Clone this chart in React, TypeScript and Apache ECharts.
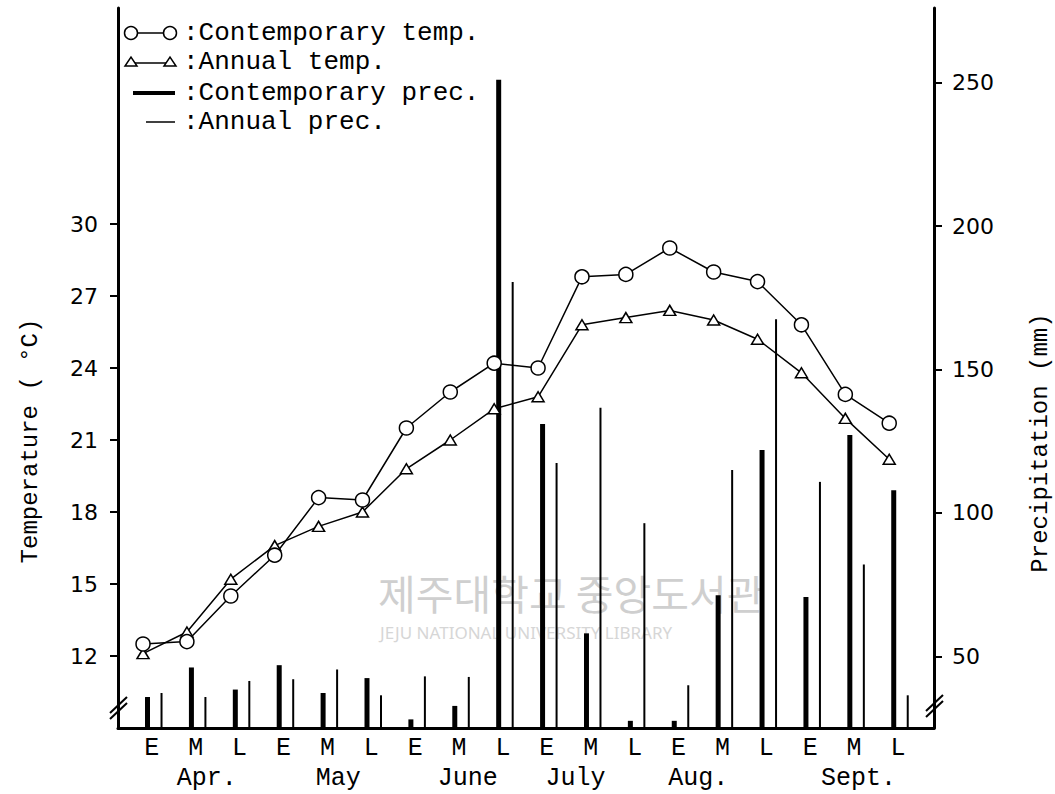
import React, { useEffect, useRef } from "react";
import * as echarts from "echarts";

// ---- data ----
const periods = ["E", "M", "L", "E", "M", "L", "E", "M", "L", "E", "M", "L", "E", "M", "L", "E", "M", "L"];
const months = ["Apr.", "May", "June", "July", "Aug.", "Sept."];
const contTemp = [12.5, 12.6, 14.5, 16.2, 18.6, 18.5, 21.5, 23.0, 24.2, 24.0, 27.8, 27.9, 29.0, 28.0, 27.6, 25.8, 22.9, 21.7];
const annTemp = [12.1, 13.0, 15.2, 16.6, 17.4, 18.0, 19.8, 21.0, 22.3, 22.8, 25.8, 26.1, 26.4, 26.0, 25.2, 23.8, 21.9, 20.2];
const contPrec = [35.8, 46.1, 38.4, 46.9, 37.2, 42.4, 28.0, 32.7, 251, 131, 58, 27.5, 27.5, 71.3, 121.9, 70.7, 127.1, 107.9];
const annPrec = [37.2, 35.8, 41.4, 42.0, 45.4, 36.4, 43.0, 42.8, 180.5, 117.4, 136.6, 96.4, 39.9, 114.9, 167.5, 110.8, 82.0, 36.4];
const tempTicks = [12, 15, 18, 21, 24, 27, 30];
const precTicks = [50, 100, 150, 200, 250];

// ---- layout ----
const X_MIN = -0.57;
const X_MAX = 18.02;
const LABEL_SHIFT = 0.2;
const BAR_SHIFT = 0.245;
const monthLabelPos = [1.45, 4.45, 7.4, 9.85, 12.65, 16.3];
const MONO = '"Liberation Mono", "DejaVu Sans Mono", monospace';
const SANS = '"DejaVu Sans", sans-serif';

export default function App() {
  const ref = useRef<HTMLDivElement>(null);

  useEffect(() => {
    if (!ref.current) return;
    const chart = echarts.init(ref.current, null, { renderer: "svg" });

    const legendText = (y: number, text: string) => ({
      type: "text",
      x: 183,
      y,
      style: { text, fontFamily: MONO, fontSize: 26, fill: "#000", align: "left", verticalAlign: "middle" },
    });

    const option: any = {
      animation: false,
      backgroundColor: "#fff",
      grid: { left: 118, right: 121, top: 8, bottom: 66, containLabel: false },
      xAxis: [
        {
          type: "value",
          min: X_MIN,
          max: X_MAX,
          position: "bottom",
          axisLine: { show: true, onZero: false, lineStyle: { color: "#000", width: 3 } },
          axisTick: { show: false },
          splitLine: { show: false },
          axisLabel: {
            customValues: periods.map((_, i) => i + LABEL_SHIFT),
            formatter: (v: number) => periods[Math.round(v - LABEL_SHIFT)] ?? "",
            margin: 8,
            fontFamily: MONO,
            fontSize: 25,
            color: "#000",
          },
        },
        {
          type: "value",
          min: X_MIN,
          max: X_MAX,
          position: "bottom",
          axisLine: { show: false, onZero: false },
          axisTick: { show: false },
          splitLine: { show: false },
          axisLabel: {
            customValues: monthLabelPos,
            formatter: (v: number) => {
              let best = 0;
              monthLabelPos.forEach((p, i) => {
                if (Math.abs(p - v) < Math.abs(monthLabelPos[best] - v)) best = i;
              });
              return months[best];
            },
            margin: 38,
            fontFamily: MONO,
            fontSize: 25,
            color: "#000",
          },
        },
        {
          type: "value",
          min: X_MIN - BAR_SHIFT,
          max: X_MAX - BAR_SHIFT,
          position: "bottom",
          show: false,
          axisLine: { onZero: false },
        },
      ],
      yAxis: [
        {
          type: "value",
          min: 9,
          max: 39,
          interval: 3,
          position: "left",
          axisLine: { show: true, onZero: false, lineStyle: { color: "#000", width: 3 } },
          axisTick: { show: true, inside: false, customValues: tempTicks, length: 8, lineStyle: { color: "#000", width: 2 } },
          axisLabel: { customValues: tempTicks, margin: 20, fontFamily: SANS, fontSize: 22, color: "#000" },
          splitLine: { show: false },
        },
        {
          type: "value",
          min: 25,
          max: 276,
          interval: 25,
          position: "right",
          axisLine: { show: true, onZero: false, lineStyle: { color: "#000", width: 3 } },
          axisTick: { show: true, inside: false, customValues: precTicks, length: 8, lineStyle: { color: "#000", width: 2 } },
          axisLabel: { customValues: precTicks, margin: 18, fontFamily: SANS, fontSize: 22, color: "#000" },
          splitLine: { show: false },
        },
      ],
      series: [
        {
          type: "bar",
          name: "Contemporary prec.",
          xAxisIndex: 2,
          yAxisIndex: 1,
          data: contPrec.map((v, i) => [i, v]),
          barWidth: 5,
          barGap: "210%",
          clip: true,
          itemStyle: { color: "#000" },
          z: 2,
        },
        {
          type: "bar",
          name: "Annual prec.",
          xAxisIndex: 2,
          yAxisIndex: 1,
          data: annPrec.map((v, i) => [i, v]),
          barWidth: 2,
          barGap: "210%",
          clip: true,
          itemStyle: { color: "#000" },
          z: 2,
        },
        {
          type: "line",
          name: "Annual temp.",
          xAxisIndex: 0,
          yAxisIndex: 0,
          data: annTemp.map((v, i) => [i, v]),
          symbol: "triangle",
          symbolSize: [12, 10],
          showAllSymbol: true,
          lineStyle: { color: "#000", width: 1.5 },
          itemStyle: { color: "#fff", borderColor: "#000", borderWidth: 1.5 },
          z: 3,
        },
        {
          type: "line",
          name: "Contemporary temp.",
          xAxisIndex: 0,
          yAxisIndex: 0,
          data: contTemp.map((v, i) => [i, v]),
          symbol: "circle",
          symbolSize: 14,
          showAllSymbol: true,
          lineStyle: { color: "#000", width: 1.5 },
          itemStyle: { color: "#fff", borderColor: "#000", borderWidth: 1.5 },
          z: 4,
        },
      ],
      graphic: [
        // watermark
        {
          type: "text", x: 378, y: 592, z: -1,
          style: { text: "제주대학교 중앙도서관", fontFamily: '"Noto Sans CJK KR"', fontSize: 41, fill: "#cfcfcf", verticalAlign: "middle" },
        },
        {
          type: "text", x: 380, y: 632, z: -1,
          style: { text: "JEJU NATIONAL UNIVERSITY LIBRARY", fontFamily: '"Noto Sans"', fontSize: 17, fill: "#d6d6d6", verticalAlign: "middle" },
        },
        // axis names
        {
          type: "text", x: 30, y: 441, rotation: Math.PI / 2,
          style: { text: "Temperature ( °C)", fontFamily: MONO, fontSize: 24, fill: "#000", align: "center", verticalAlign: "middle" },
        },
        {
          type: "text", x: 1040, y: 443, rotation: Math.PI / 2,
          style: { text: "Precipitation (mm)", fontFamily: MONO, fontSize: 24, fill: "#000", align: "center", verticalAlign: "middle" },
        },
        // axis breaks
        { type: "line", shape: { x1: 110, y1: 713, x2: 127, y2: 697 }, style: { stroke: "#000", lineWidth: 2 } },
        { type: "line", shape: { x1: 110, y1: 719, x2: 127, y2: 703 }, style: { stroke: "#000", lineWidth: 2 } },
        { type: "line", shape: { x1: 926, y1: 711, x2: 943, y2: 695 }, style: { stroke: "#000", lineWidth: 2 } },
        { type: "line", shape: { x1: 926, y1: 717, x2: 943, y2: 701 }, style: { stroke: "#000", lineWidth: 2 } },
        // legend row 1
        { type: "line", shape: { x1: 131, y1: 33, x2: 170, y2: 33 }, style: { stroke: "#000", lineWidth: 1.5 } },
        { type: "circle", shape: { cx: 131, cy: 33, r: 6.5 }, style: { fill: "#fff", stroke: "#000", lineWidth: 1.5 } },
        { type: "circle", shape: { cx: 170, cy: 33, r: 6.5 }, style: { fill: "#fff", stroke: "#000", lineWidth: 1.5 } },
        legendText(33, ":Contemporary temp."),
        // legend row 2
        { type: "line", shape: { x1: 131, y1: 63, x2: 170, y2: 63 }, style: { stroke: "#000", lineWidth: 1.5 } },
        { type: "polygon", shape: { points: [[125, 66], [137, 66], [131, 57]] }, style: { fill: "#fff", stroke: "#000", lineWidth: 1.5 } },
        { type: "polygon", shape: { points: [[164, 66], [176, 66], [170, 57]] }, style: { fill: "#fff", stroke: "#000", lineWidth: 1.5 } },
        legendText(62, ":Annual temp."),
        // legend row 3
        { type: "line", shape: { x1: 133, y1: 93, x2: 175, y2: 93 }, style: { stroke: "#000", lineWidth: 4 } },
        legendText(93, ":Contemporary prec."),
        // legend row 4
        { type: "line", shape: { x1: 146, y1: 122, x2: 175, y2: 122 }, style: { stroke: "#000", lineWidth: 1.5 } },
        legendText(122, ":Annual prec."),
      ],
    };

    chart.setOption(option);
    return () => chart.dispose();
  }, []);

  return (
    <div
      ref={ref}
      style={{ position: "absolute", left: 0, top: 0, width: 1055, height: 794, background: "#fff" }}
    />
  );
}
